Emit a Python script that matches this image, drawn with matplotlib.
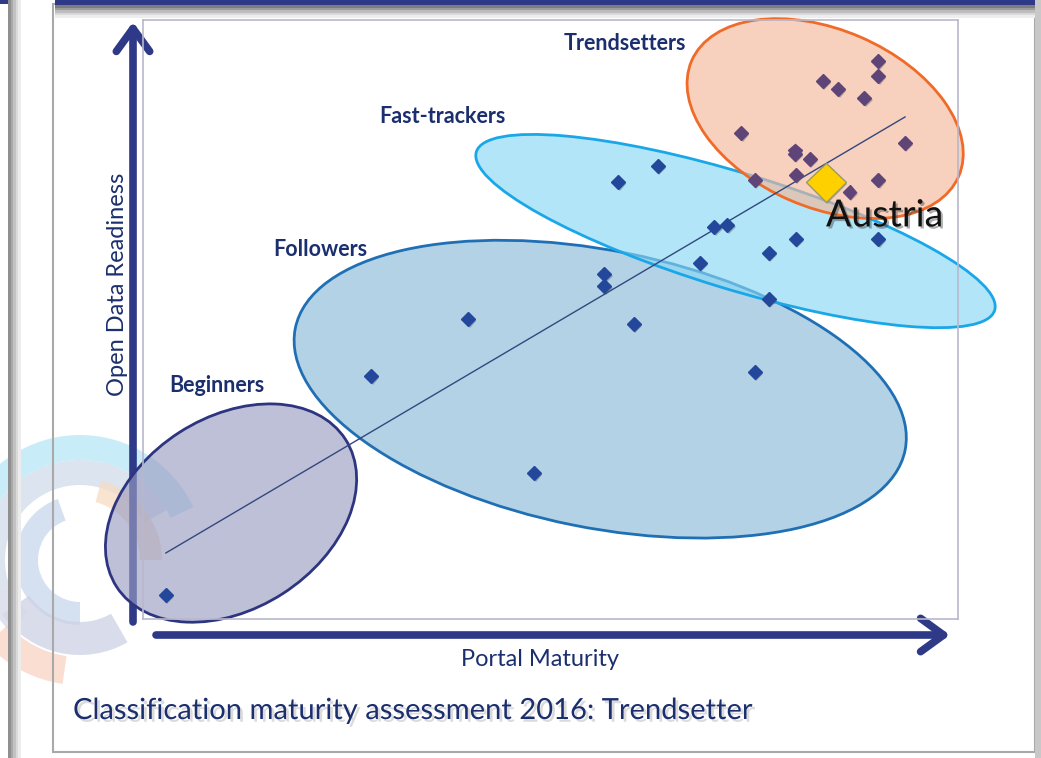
import matplotlib
matplotlib.use("Agg")
import matplotlib.pyplot as plt
import matplotlib.patches as patches
import matplotlib.patheffects as pe

# scores (portal maturity, open data readiness)
beginners_x = [2.8]
beginners_y = [2.9]

followers_x = [28.0, 39.9, 48.0, 56.6, 56.6, 60.2, 75.1, 76.8]
followers_y = [29.8, 36.8, 17.9, 42.3, 40.9, 36.2, 30.3, 39.3]

fasttrack_x = [58.3, 63.2, 68.3, 70.1, 71.7, 76.8, 80.1, 90.2]
fasttrack_y = [53.6, 55.6, 43.7, 48.1, 48.3, 44.9, 46.6, 46.6]

trend_x = [90.2, 90.2, 83.4, 85.3, 88.5, 73.4, 93.5, 80.0, 80.0, 81.8, 75.1, 80.1, 90.2, 86.7]
trend_y = [68.5, 66.6, 66.0, 65.0, 63.9, 59.6, 58.4, 57.5, 57.1, 56.4, 53.9, 54.5, 53.9, 52.4]

austria_x = 83.8
austria_y = 53.6

# regression line end points
line_x = [2.8, 93.5]
line_y = [8.1, 61.6]

# cluster ellipses: centre, width, height, angle
groups = ["Beginners", "Followers", "Fast-trackers", "Trendsetters"]
ell_cx = [10.8, 56.1, 72.7, 83.7]
ell_cy = [13.0, 28.2, 47.6, 61.4]
ell_w = [33.4, 76.3, 66.5, 35.7]
ell_h = [23.5, 34.0, 14.2, 21.8]
ell_ang = [32.8, -11.3, -17.0, -23.4]
ell_face = ["#9B9EC3", "#8DBBDA", "#89D7F3", "#F4B79B"]
ell_edge = ["#2E3580", "#1F6FB5", "#1AA7E8", "#F06A28"]

label_x = [9.1, 21.7, 36.7, 59.1]
label_y = [28.6, 45.3, 61.7, 70.6]

navy = "#2E3A87"
textnavy = "#1B2F6E"
W, H = 1041, 758

plt.rcParams['font.family'] = ['Lato', 'DejaVu Sans']
fig = plt.figure(figsize=(W / 100, H / 100), dpi=100)

# slide background / frame
bg = fig.add_axes([0, 0, 1, 1])
bg.set_xlim(0, W)
bg.set_ylim(H, 0)
bg.axis("off")
bg.add_patch(patches.Rectangle((0, 0), W, H, color="white"))

# faded logo behind the chart (angles counter-clockwise as seen; y axis is flipped)
logo = [(125, 100, 25, 180, "#b8e6f8"), (100, 75, 30, 200, "#cfdbea"),
        (65, 42, 110, 270, "#c8d8ec"), (82, 60, 0, 75, "#f7dcc2"),
        (95, 62, 215, 300, "#cdd1e4"), (125, 97, 222, 262, "#f9d3c2"),
        (100, 75, 200, 225, "#d5d8e8")]
for r, r0, t1, t2, c in logo:
    bg.add_patch(patches.Wedge((80, 560), r, -t2, -t1, width=r - r0, color=c, alpha=0.75, lw=0))

for i, c in enumerate(["#8f8f8f", "#a8a8a8", "#c2c2c2", "#dadada", "#ececec"]):
    bg.add_patch(patches.Rectangle((8 + i * 2.5, 0), 2.5, H, color=c, lw=0))
bg.add_patch(patches.Rectangle((53, 4), 982, 748, fill=False, ec="#a9a9a9", lw=1.5))
for i, c in enumerate(["#7d7d7d", "#9c9c9c", "#bdbdbd", "#d9d9d9", "#eeeeee"]):
    bg.add_patch(patches.Rectangle((55, 5 + i * 2.5), 980, 2.5, color=c, lw=0))
bg.add_patch(patches.Rectangle((55, 0), 980, 5, color=navy, lw=0))
bg.add_patch(patches.Rectangle((0, 0), 8, 4, color=navy, lw=0))
bg.add_patch(patches.Rectangle((1035, 0), 6, H, color="#c8c8c8", lw=0))

# axis arrows
arrow = dict(arrowstyle="->,head_length=0.55,head_width=0.4", lw=5.5,
             color=navy, mutation_scale=30, shrinkA=0, shrinkB=0)
bg.annotate("", xy=(133, 22), xytext=(133, 622), arrowprops=arrow)
bg.annotate("", xy=(950, 635), xytext=(156, 635), arrowprops=arrow)
bg.text(117, 284, "Open Data Readiness", rotation=90, ha="center", va="center",
        fontsize=17, color=textnavy)
bg.text(540, 659, "Portal Maturity", ha="center", va="center", fontsize=17, color=textnavy)
bg.text(73, 711, "Classification maturity assessment 2016: Trendsetter", ha="left",
        va="center", fontsize=21, color=textnavy,
        path_effects=[pe.withSimplePatchShadow(offset=(2, -2), shadow_rgbFace="#999999", alpha=0.35)])

# plot area
ax = fig.add_axes([143 / W, (H - 619) / H, 815 / W, 599 / H])
ax.set_xlim(0, 100)
ax.set_ylim(0, 599 / 8.15)
ax.set_xticks([])
ax.set_yticks([])
ax.patch.set_alpha(0)
for s in ax.spines.values():
    s.set_color("#b8b8cc")
    s.set_linewidth(1.2)

for i in range(len(groups)):
    e = patches.Ellipse((ell_cx[i], ell_cy[i]), ell_w[i], ell_h[i], angle=ell_ang[i],
                        facecolor=ell_face[i], alpha=0.65, lw=0, clip_on=False, zorder=1 + i * 0.1)
    ax.add_patch(e)
    e2 = patches.Ellipse((ell_cx[i], ell_cy[i]), ell_w[i], ell_h[i], angle=ell_ang[i],
                         fill=False, ec=ell_edge[i], lw=2, clip_on=False, zorder=1.05 + i * 0.1)
    ax.add_patch(e2)
    ax.text(label_x[i], label_y[i], groups[i], ha="center", va="center", fontsize=15.5,
            fontweight="bold", color=textnavy, zorder=5)

ax.plot(line_x, line_y, color="#33487f", lw=1, zorder=3)

shadow = [pe.SimplePatchShadow(offset=(1, -1.5), shadow_rgbFace="#555555", alpha=0.4), pe.Normal()]
blue = "#23479A"
for xs, ys in [(beginners_x, beginners_y), (followers_x, followers_y), (fasttrack_x, fasttrack_y)]:
    ax.plot(xs, ys, "D", ms=7, color=blue, mec=blue, zorder=4, path_effects=shadow)
ax.plot(trend_x, trend_y, "D", ms=7, color="#5F4478", mec="#5F4478", zorder=4, path_effects=shadow)
ax.plot([austria_x], [austria_y], "D", ms=20, color="#FFD000", mec="#9a9a6a", mew=1,
        zorder=6, path_effects=shadow)
ax.annotate("Austria", (austria_x, austria_y), xytext=(0, -11), textcoords="offset points",
            ha="left", va="top", fontsize=27, color="#111111", zorder=6,
            path_effects=[pe.withSimplePatchShadow(offset=(1.5, -1.5), shadow_rgbFace="#333333", alpha=0.4)])

fig.savefig("out.png", dpi=100)
